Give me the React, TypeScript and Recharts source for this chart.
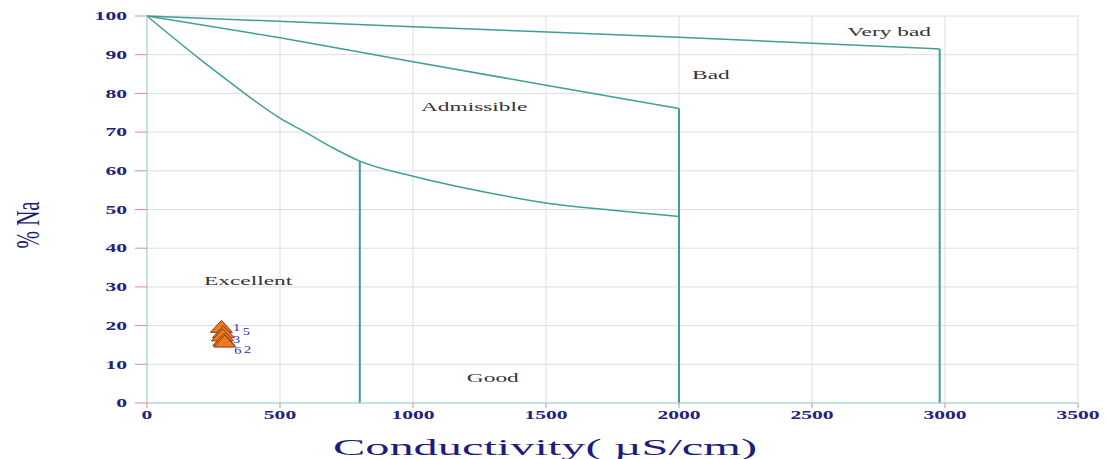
import {
  ComposedChart,
  CartesianGrid,
  Label,
  LabelList,
  Line,
  ReferenceDot,
  Scatter,
  XAxis,
  YAxis,
} from "recharts"

// boundary curves (conductivity µS/cm, % Na)
const goodCurveX = [0, 200, 300, 400, 500, 600, 700, 800, 1000, 1250, 1500, 1750, 2000]
const goodCurveY = [100, 88.8, 83.5, 78.3, 73.6, 69.8, 65.9, 62.5, 58.6, 54.8, 51.7, 49.8, 48.2]
const admissibleCurveX = [0, 500, 1000, 1500, 2000]
const admissibleCurveY = [100, 94.4, 88.2, 82.1, 76.1]
const badCurveX = [0, 1000, 2000, 2980]
const badCurveY = [100, 97.2, 94.5, 91.5]

const verticalX = [800, 2000, 2980]
const verticalTop = [62.5, 76.1, 91.5]

const zoneNames = ["Very bad", "Bad", "Admissible", "Excellent", "Good"]
const zoneX = [2790, 2120, 1230, 380, 1300]
const zoneY = [95.9, 85, 76.6, 31.6, 6.6]

const sampleIds = ["1", "5", "3", "6", "2"]
const sampleCond = [280, 287, 284, 289, 292]
const sampleNa = [19.8, 18.4, 17.6, 16.4, 16.0]

const xTicks = [0, 500, 1000, 1500, 2000, 2500, 3000, 3500]
const yTicks = [0, 10, 20, 30, 40, 50, 60, 70, 80, 90, 100]

const toPoints = (xs: number[], ys: number[]) => xs.map((x, i) => ({ x, y: ys[i] }))

const samples = sampleCond.map((x, i) => ({ x, y: sampleNa[i], id: sampleIds[i] }))

// where each sample number sits relative to its marker
const labelOffX = [15, 23, 14, 14, 23]
const labelOffY = [5, 3, 8, 14, 12]

const CURVE = "#3f9e98"
const AXIS = "#93d9d3"
const NAVY = "#23237f"
const SERIF = "'Liberation Serif', 'DejaVu Serif', serif"
// the original image is stretched sideways, so its text is too
const STRETCH = 1.8

function Triangle(props: any) {
  const { cx, cy } = props
  if (cx == null || cy == null) return null
  const w = 11
  const h = 12
  return (
    <path
      d={`M${cx},${cy - h / 2} L${cx + w},${cy + h / 2} L${cx - w},${cy + h / 2} Z`}
      fill="#ec7a22"
      stroke="#8a3b12"
      strokeWidth={1}
    />
  )
}

function SampleLabel(props: any) {
  const { x, y, width, height, value, index } = props
  const cx = Number(x) + Number(width) / 2
  const cy = Number(y) + Number(height) / 2
  return (
    <text
      transform={`translate(${cx + labelOffX[index]},${cy + labelOffY[index]}) scale(1.3,1)`}
      fill="#2a2ab0"
      fontSize={11}
      fontFamily={SERIF}
      textAnchor="middle"
    >
      {value}
    </text>
  )
}

function XTick(props: any) {
  const { x, y, payload } = props
  return (
    <text
      transform={`translate(${x},${y}) scale(${STRETCH},1)`}
      dy="0.75em"
      textAnchor="middle"
      fill={NAVY}
      fontSize={12}
      fontWeight={600}
      fontFamily={SERIF}
    >
      {payload.value}
    </text>
  )
}

function YTick(props: any) {
  const { x, y, payload } = props
  return (
    <text
      transform={`translate(${x},${y}) scale(${STRETCH},1)`}
      dy="0.35em"
      textAnchor="end"
      fill={NAVY}
      fontSize={12}
      fontWeight={600}
      fontFamily={SERIF}
    >
      {payload.value}
    </text>
  )
}

function ZoneText(props: any) {
  const { cx, cy, name } = props
  return (
    <text
      transform={`translate(${cx},${cy}) scale(${STRETCH},1)`}
      dy="0.35em"
      textAnchor="middle"
      fill="#333"
      fontSize={13}
      fontFamily={SERIF}
    >
      {name}
    </text>
  )
}

export default function App() {
  return (
    <div style={{ position: "absolute", left: 0, top: 0, background: "#fff" }}>
      <ComposedChart
        width={1107}
        height={459}
        margin={{ top: 16, right: 29, bottom: 26, left: 0 }}
      >
        <CartesianGrid stroke="#dedede" />
        <XAxis
          type="number"
          dataKey="x"
          domain={[0, 3500]}
          ticks={xTicks}
          stroke={AXIS}
          tickSize={5}
          tickMargin={2}
          tick={<XTick />}
          tickLine={{ stroke: "#e58a8a" }}
          height={30}
        >
          <Label
            content={() => (
              <text
                x={545}
                y={455}
                textAnchor="middle"
                textLength={424}
                lengthAdjust="spacingAndGlyphs"
                fill="#1c1c7c"
                fontSize={24}
                fontFamily={SERIF}
              >
                Conductivity( µS/cm)
              </text>
            )}
          />
        </XAxis>
        <YAxis
          type="number"
          dataKey="y"
          domain={[0, 100]}
          ticks={yTicks}
          stroke={AXIS}
          width={147}
          tickSize={12}
          tickMargin={8}
          tick={<YTick />}
          tickLine={{ stroke: "#e58a8a" }}
        >
          <Label
            content={() => (
              <text
                transform="translate(39,225) rotate(-90) scale(1,1.6)"
                textAnchor="middle"
                fill="#1c1c7c"
                fontSize={21}
                fontFamily={SERIF}
              >
                % Na
              </text>
            )}
          />
        </YAxis>

        <Line
          data={toPoints(goodCurveX, goodCurveY)}
          dataKey="y"
          type="monotone"
          stroke={CURVE}
          strokeWidth={1.5}
          dot={false}
          isAnimationActive={false}
        />
        <Line
          data={toPoints(admissibleCurveX, admissibleCurveY)}
          dataKey="y"
          type="monotone"
          stroke={CURVE}
          strokeWidth={1.5}
          dot={false}
          isAnimationActive={false}
        />
        <Line
          data={toPoints(badCurveX, badCurveY)}
          dataKey="y"
          type="monotone"
          stroke={CURVE}
          strokeWidth={1.5}
          dot={false}
          isAnimationActive={false}
        />
        {verticalX.map((vx, i) => (
          <Line
            key={vx}
            data={[
              { x: vx, y: verticalTop[i] },
              { x: vx, y: 0 },
            ]}
            dataKey="y"
            type="linear"
            stroke={CURVE}
            strokeWidth={2}
            dot={false}
            isAnimationActive={false}
          />
        ))}

        {zoneNames.map((name, i) => (
          <ReferenceDot
            key={name}
            x={zoneX[i]}
            y={zoneY[i]}
            r={0}
            shape={(p: any) => <ZoneText {...p} name={name} />}
          />
        ))}

        <Scatter data={samples} dataKey="y" shape={<Triangle />} isAnimationActive={false}>
          <LabelList dataKey="id" content={<SampleLabel />} />
        </Scatter>
      </ComposedChart>
    </div>
  )
}
